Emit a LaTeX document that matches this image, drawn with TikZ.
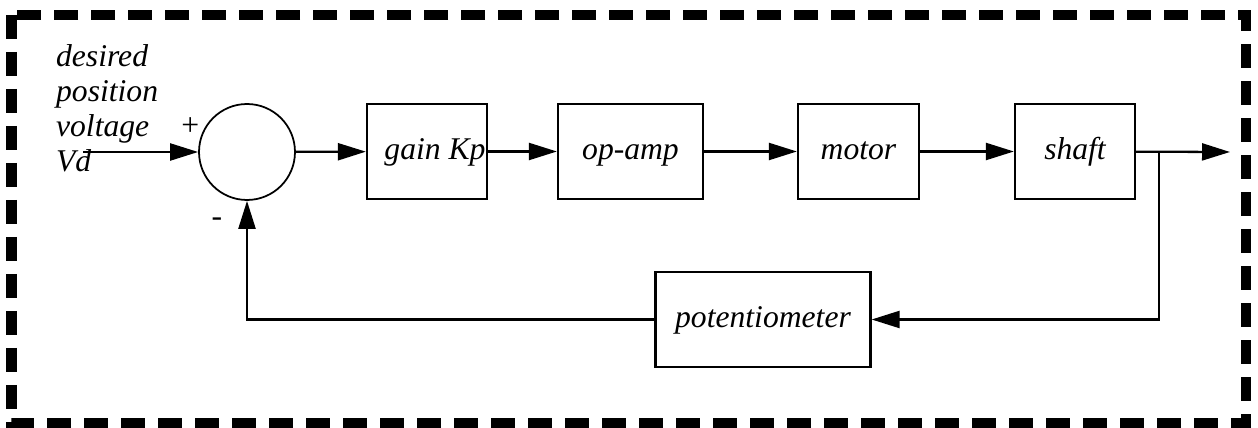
\documentclass[tikz,border=0pt]{standalone}
\usepackage{fontspec}
\setmainfont{Liberation Serif}
\newfontfamily\blockfont{Liberation Serif}
\usetikzlibrary{arrows.meta, positioning}

\begin{document}
\begin{tikzpicture}[x=0.02cm, y=-0.02cm, line width=1.3pt, >={Triangle[length=0.56cm,width=0.34cm]},
  block/.style = {draw, rectangle, minimum height=1.9cm, inner sep=0pt, text height=14pt, text depth=5.4pt,
    font=\blockfont\itshape\fontsize{18}{20}\selectfont},
  sum/.style = {draw, circle, minimum size=1.92cm, inner sep=0pt, line width=1pt},
  lbl/.style = {inner sep=0pt, font=\blockfont\itshape\fontsize{18}{20}\selectfont}]
  \useasboundingbox (0,0) rectangle (1258,428);
  \draw[line width=5.7pt, dash pattern=on 0.48cm off 0.26cm] (11.5,15) rectangle (1246,423);

  \node[sum] (s) at (247,152) {};
  \node[block, minimum width=2.4cm] (g) at (427,151.5) {\hspace*{0.32cm}gain Kp};
  \node[block, minimum width=2.9cm] (a) at (630.5,151.5) {op-amp};
  \node[block, minimum width=2.42cm] (m) at (858.5,151.5) {motor};
  \node[block, minimum width=2.4cm] (sh) at (1075,151.5) {shaft};
  \node[block, minimum width=4.3cm] (p) at (763,319.5) {potentiometer};

  \node[lbl, align=left, anchor=north west] (vd) at (55,43) {desired\\position\\voltage\\Vd};
  \node[lbl] (plus) at (190,127) {+};
  \node[lbl] (minus) at (217,222) {-};

  \coordinate (vin) at (83,152);
  \coordinate (br) at (1159,152);
  \coordinate (out) at (1230,152);

  \path[->]
  (vin) edge (s)
  (s)   edge (g)
  (g)   edge (a)
  (a)   edge (m)
  (m)   edge (sh);
  \draw[->] (sh) -- (out);
  \draw[->] (br) |- (p);
  \draw[->] (p) -| (s);
\end{tikzpicture}
\end{document}
